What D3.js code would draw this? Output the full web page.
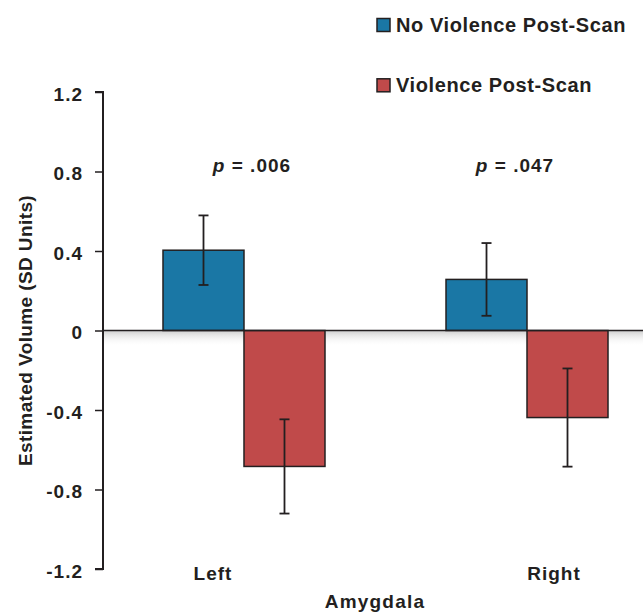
<!DOCTYPE html>
<html><head><meta charset="utf-8">
<script src="https://cdn.jsdelivr.net/npm/d3@7"></script>
<style>body{margin:0;background:#fff}svg{display:block}text{font-family:"Liberation Sans",Arial,sans-serif;font-weight:bold;fill:#231f20}</style>
</head><body><svg id="c" width="643" height="613"></svg>
<script>
const categories = ["Left", "Right"];
const seriesNames = ["No Violence Post-Scan", "Violence Post-Scan"];
const noViolence = [0.404, 0.257];
const noViolenceErr = [0.175, 0.183];
const violence = [-0.684, -0.438];
const violenceErr = [0.237, 0.247];
const pLabels = [".006", ".047"];
const yTicks = [-1.2, -0.8, -0.4, 0, 0.4, 0.8, 1.2];
const yTickLabels = ["-1.2", "-0.8", "-0.4", "0", "0.4", "0.8", "1.2"];

const colors = ["#1a77a5", "#c04a4a"];
const stroke = "#231f20";
const svg = d3.select("#c");

const y = d3.scaleLinear().domain([-1.2, 1.2]).range([569, 92]);
const x0 = d3.scaleBand().domain(categories).range([103, 668]).paddingInner(0.4276).paddingOuter(0.212);
const x1 = d3.scaleBand().domain(seriesNames).range([0, x0.bandwidth()]);

// shadow under zero line
const defs = svg.append("defs");
const g = defs.append("linearGradient").attr("id","sh").attr("x1",0).attr("x2",0).attr("y1",0).attr("y2",1);
g.append("stop").attr("offset","0%").attr("stop-color","#c8c8c8").attr("stop-opacity",0.9);
g.append("stop").attr("offset","100%").attr("stop-color","#ffffff").attr("stop-opacity",0);
svg.append("rect").attr("x",103).attr("y",y(0)).attr("width",540).attr("height",16).attr("fill","url(#sh)");

// y axis
const yAxis = d3.axisLeft(y).tickValues(yTicks).tickFormat((d,i)=>yTickLabels[i]).tickSize(8).tickPadding(12);
const ya = svg.append("g").attr("transform","translate(103,0)").call(yAxis);
ya.select(".domain").attr("stroke",stroke).attr("stroke-width",2).attr("d",`M-8,${y(1.2)}H0V${y(-1.2)}H-8`);
ya.selectAll(".tick line").attr("stroke",stroke).attr("stroke-width",1.5);
ya.selectAll(".tick text").style("font-size","19px").style("letter-spacing","1px").attr("dy","0.43em")
  .style("font-family","Liberation Sans, Arial, sans-serif").style("font-weight","bold").attr("fill",stroke);

// bars
const data = categories.map((c,i)=>({c, vals:[{s:seriesNames[0],v:noViolence[i],e:noViolenceErr[i],k:0},{s:seriesNames[1],v:violence[i],e:violenceErr[i],k:1}]}));
const grp = svg.selectAll(".grp").data(data).join("g").attr("transform",d=>`translate(${x0(d.c)},0)`);
grp.selectAll("rect").data(d=>d.vals).join("rect")
  .attr("x",d=>x1(d.s)).attr("width",x1.bandwidth())
  .attr("y",d=>y(Math.max(0,d.v))).attr("height",d=>Math.abs(y(d.v)-y(0)))
  .attr("fill",d=>colors[d.k]).attr("stroke",stroke).attr("stroke-width",1.5);

// zero line
svg.append("line").attr("x1",103).attr("x2",643).attr("y1",y(0)).attr("y2",y(0)).attr("stroke",stroke).attr("stroke-width",1.5);

// error bars
const eb = grp.selectAll(".eb").data(d=>d.vals).join("g").attr("class","eb");
eb.append("line").attr("x1",d=>x1(d.s)+x1.bandwidth()/2).attr("x2",d=>x1(d.s)+x1.bandwidth()/2)
  .attr("y1",d=>y(d.v+d.e)).attr("y2",d=>y(d.v-d.e)).attr("stroke",stroke).attr("stroke-width",1.8);
[1,-1].forEach(sg=>{
  eb.append("line").attr("x1",d=>x1(d.s)+x1.bandwidth()/2-5).attr("x2",d=>x1(d.s)+x1.bandwidth()/2+5)
    .attr("y1",d=>y(d.v+sg*d.e)).attr("y2",d=>y(d.v+sg*d.e)).attr("stroke",stroke).attr("stroke-width",1.8);
});

// p labels
const pOffset = [8, -12];
grp.append("text").attr("x",(d,i)=>x0.bandwidth()/2+pOffset[i]).attr("y",172).attr("text-anchor","middle")
  .style("font-size","19px").style("letter-spacing","1px")
  .each(function(d,i){
    const t=d3.select(this);
    t.append("tspan").style("font-style","italic").text("p");
    t.append("tspan").text(" = "+pLabels[i]);
  });

// category labels
const catOffset = [-31, 27];
grp.append("text").attr("x",(d,i)=>x0.bandwidth()/2+catOffset[i]).attr("y",580).attr("text-anchor","middle")
  .style("font-size","19px").style("letter-spacing","1px").text(d=>d.c);

// axis titles
svg.append("text").attr("x",375).attr("y",608).attr("text-anchor","middle").style("font-size","19px").style("letter-spacing","1.2px").text("Amygdala");
svg.append("text").attr("transform",`translate(32,${y(0)}) rotate(-90)`).attr("text-anchor","middle")
  .style("font-size","19px").style("letter-spacing","0.4px").text("Estimated Volume (SD Units)");

// legend
const leg = svg.selectAll(".leg").data(seriesNames).join("g").attr("transform",(d,i)=>`translate(377,${18.5+i*60.3})`);
leg.append("rect").attr("width",13).attr("height",13).attr("fill",(d,i)=>colors[i]).attr("stroke",stroke).attr("stroke-width",1.5);
leg.append("text").attr("x",19).attr("y",13.2).style("font-size","20px").style("letter-spacing","0.6px").text(d=>d);
</script></body></html>
